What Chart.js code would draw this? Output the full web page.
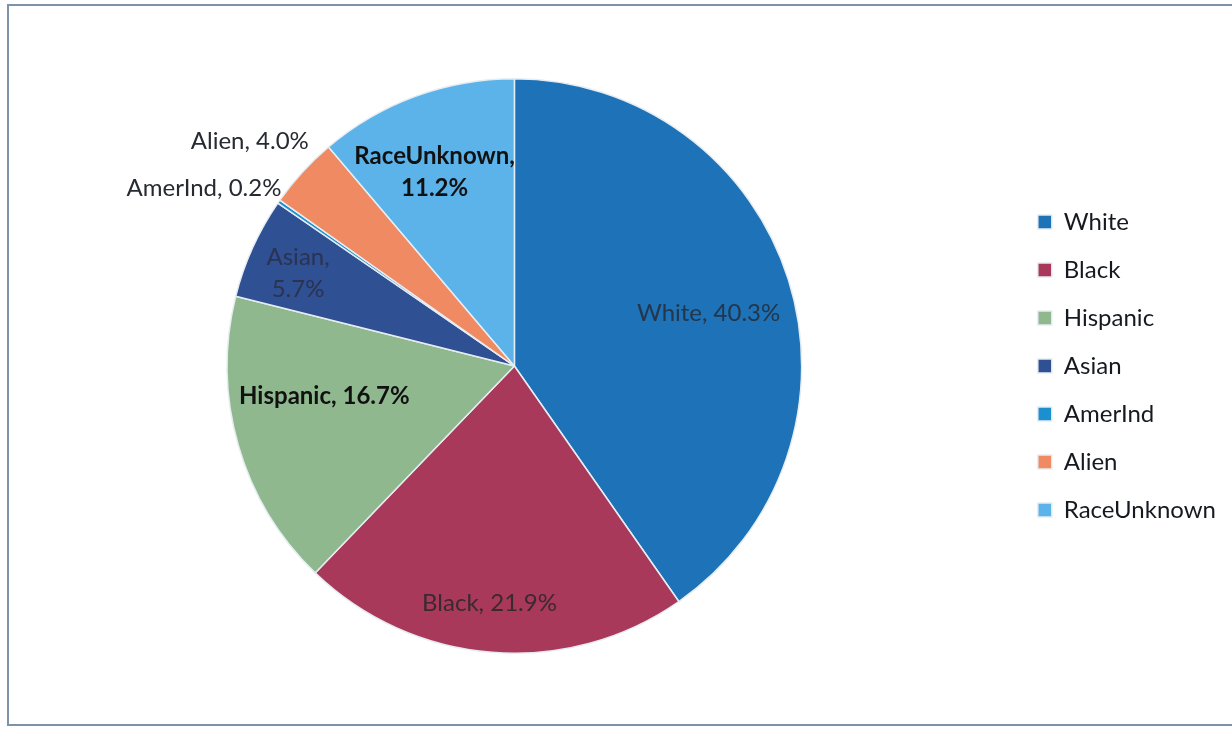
<!DOCTYPE html>
<html>
<head>
<meta charset="utf-8">
<script src="https://cdn.jsdelivr.net/npm/chart.js@4.4.1/dist/chart.umd.min.js"></script>
<style>
  body { margin: 0; background: #fff; }
  #wrap { position: relative; width: 1232px; height: 731px; overflow: hidden; }
  #frame { position: absolute; left: 7px; top: 4px; width: 1240px; height: 718px;
           border: 2px solid #7f93a8; pointer-events: none; }
  canvas { position: absolute; left: 0; top: 0; }
</style>
</head>
<body>
<div id="wrap">
  <canvas id="myChart" width="1232" height="731"></canvas>
  <div id="frame"></div>
</div>
<script>
//DATA
const races = ["White", "Black", "Hispanic", "Asian", "AmerInd", "Alien", "RaceUnknown"];
const shares = [40.3, 21.9, 16.7, 5.7, 0.2, 4.0, 11.2];
const sliceColors = ["#1e72b8", "#a8395a", "#8fb88f", "#2f5093", "#1b8fd0", "#f08a62", "#5bb3ea"];

//LABEL STYLE (where each data label sits, relative to its slice)
const labelDist = [0.70, 0.83, 0.67, 0.82, 1.02, 1.06, 0.73];
const labelTurn = [2.4, 1.5, 7, -1, 2.4, 5.05, -2.2];   // degrees, clockwise
const labelAlign = ["center", "center", "center", "center", "right", "right", "center"];
const labelBold = [false, false, true, false, false, false, true];
const labelWrap = [false, false, false, true, false, false, true];
const labelColor = ["#24364a", "#3a2a30", "#111111", "#2b3350", "#262a31", "#262a31", "#111111"];

const pieLabels = {
    id: "pieLabels",
    afterDatasetsDraw: (chart) => {
        const ctx = chart.ctx;
        const arcs = chart.getDatasetMeta(0).data;
        ctx.save();
        ctx.textBaseline = "middle";
        arcs.forEach((arc, i) => {
            const p = arc.getProps(["x", "y", "startAngle", "endAngle", "outerRadius"], true);
            const mid = (p.startAngle + p.endAngle) / 2 + labelTurn[i] * Math.PI / 180;
            const x = p.x + Math.cos(mid) * p.outerRadius * labelDist[i];
            const y = p.y + Math.sin(mid) * p.outerRadius * labelDist[i];
            const pct = shares[i].toFixed(1) + "%";
            const lines = labelWrap[i] ? [races[i] + ",", pct] : [races[i] + ", " + pct];
            ctx.font = (labelBold[i] ? "bold " : "") + "24px Lato";
            ctx.fillStyle = labelColor[i];
            ctx.textAlign = labelAlign[i];
            const lh = 32;
            lines.forEach((t, k) => {
                ctx.fillText(t, x, y + (k - (lines.length - 1) / 2) * lh);
            });
        });
        ctx.restore();
    }
};

const config = {
    type: "pie",
    data: {
        labels: races,
        datasets: [{
            data: shares,
            backgroundColor: sliceColors,
            borderColor: "#e6edf2",
            borderWidth: 1.5
        }]
    },
    options: {
        responsive: false,
        animation: false,
        layout: { padding: { left: 15, right: 6, top: 78, bottom: 77 } },
        plugins: {
            legend: {
                position: "right",
                labels: {
                    boxWidth: 14,
                    boxHeight: 14,
                    padding: 24,
                    color: "#151a21",
                    font: { family: "Lato", size: 24 }
                }
            },
            tooltip: { enabled: false }
        }
    },
    plugins: [pieLabels]
};

var myChart = new Chart(document.querySelector("#myChart"), config);
</script>
</body>
</html>
